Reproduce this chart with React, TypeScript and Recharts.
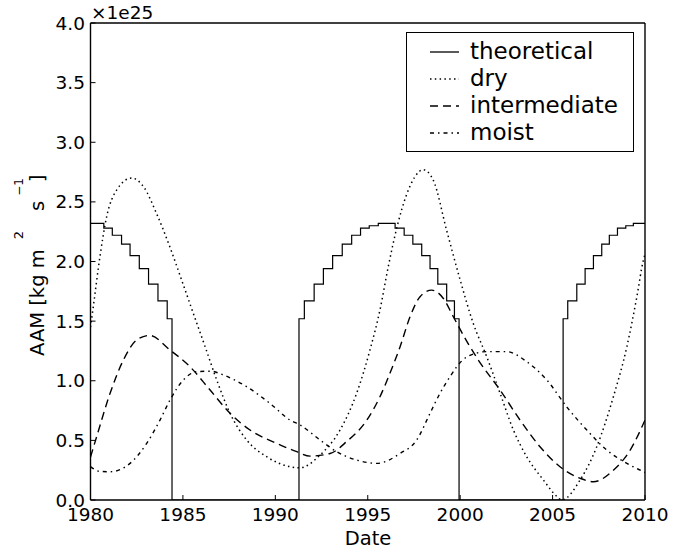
import React from "react";
import { LineChart, Line, XAxis, YAxis, Legend } from "recharts";

// [year, AAM / 1e25]
const theoretical: [number, number][] = [
  [1980, 2.32], [1980.72, 2.28], [1981.18, 2.22], [1981.68, 2.145], [1982.14, 2.05],
  [1982.64, 1.94], [1983.14, 1.81], [1983.65, 1.67], [1984.15, 1.52], [1984.41, 0],
  [1991.28, 1.52], [1991.57, 1.67], [1992.1, 1.81], [1992.6, 1.94], [1993.1, 2.05],
  [1993.62, 2.145], [1994.13, 2.22], [1994.61, 2.28], [1995.08, 2.3], [1995.57, 2.32],
  [1996.48, 2.28], [1996.97, 2.22], [1997.44, 2.145], [1997.92, 2.05], [1998.37, 1.94],
  [1998.79, 1.81], [1999.27, 1.67], [1999.69, 1.52], [1999.94, 0],
  [2005.57, 1.52], [2005.82, 1.67], [2006.31, 1.81], [2006.76, 1.94], [2007.21, 2.05],
  [2007.66, 2.145], [2008.07, 2.22], [2008.51, 2.28], [2008.96, 2.3], [2009.37, 2.32],
  [2010, 2.32],
];

const dry: [number, number][] = [
  [1980, 1.45], [1980.15, 1.62], [1980.51, 2.04], [1980.88, 2.38], [1981.42, 2.6],
  [1982.23, 2.7], [1982.9, 2.62], [1983.58, 2.4], [1984.3, 2.12], [1984.93, 1.845],
  [1985.56, 1.566], [1986.2, 1.286], [1986.83, 1.006], [1987.55, 0.727], [1988.45, 0.503],
  [1989.53, 0.363], [1990.8, 0.279], [1991.34, 0.27], [1992.42, 0.377], [1993.5, 0.587],
  [1994.4, 0.895], [1995.12, 1.258], [1995.66, 1.593], [1996.11, 1.956], [1996.6, 2.3],
  [1997.1, 2.56], [1997.55, 2.71], [1998.0, 2.77], [1998.55, 2.68], [1999.27, 2.26],
  [2000.0, 1.845], [2000.71, 1.48], [2001.44, 1.2], [2002.16, 0.895], [2002.88, 0.587],
  [2003.6, 0.363], [2004.5, 0.168], [2005.23, 0.03], [2005.5, 0.0], [2006.49, 0.168],
  [2007.39, 0.447], [2008.29, 0.866], [2009.02, 1.286], [2009.56, 1.705], [2009.91, 2.01],
  [2010, 2.06],
];

const intermediate: [number, number][] = [
  [1980, 0.36], [1980.33, 0.53], [1981.06, 0.895], [1981.78, 1.174], [1982.5, 1.342],
  [1983.2, 1.38], [1984.3, 1.258], [1985.38, 1.118], [1986.47, 0.922], [1987.55, 0.727],
  [1988.63, 0.587], [1990.07, 0.475], [1991.16, 0.405], [1991.88, 0.368], [1992.96, 0.39],
  [1993.86, 0.49], [1994.95, 0.67], [1995.66, 0.866], [1996.2, 1.062], [1996.75, 1.286],
  [1997.29, 1.537], [1997.83, 1.705], [1998.46, 1.76], [1999.09, 1.69], [1999.63, 1.537],
  [2000.36, 1.33], [2000.98, 1.174], [2002.16, 0.922], [2003.24, 0.67], [2004.32, 0.447],
  [2005.4, 0.279], [2006.49, 0.182], [2007.2, 0.153], [2008.29, 0.25], [2009.2, 0.419],
  [2010, 0.67],
];

const moist: [number, number][] = [
  [1980, 0.28], [1980.5, 0.24], [1981.06, 0.237], [1982.14, 0.307], [1983.04, 0.475],
  [1983.76, 0.67], [1984.3, 0.838], [1985.02, 1.006], [1985.75, 1.076], [1986.5, 1.08],
  [1987.19, 1.048], [1988.45, 0.95], [1989.71, 0.81], [1990.8, 0.67], [1991.34, 0.629],
  [1992.42, 0.503], [1993.32, 0.405], [1994.4, 0.335], [1995.49, 0.307], [1996.75, 0.39],
  [1997.65, 0.503], [1998.37, 0.727], [1998.91, 0.895], [1999.45, 1.034], [1999.82, 1.118],
  [2000.36, 1.2], [2001.44, 1.244], [2002.52, 1.244], [2003.6, 1.16], [2004.69, 1.006],
  [2005.77, 0.78], [2006.85, 0.587], [2007.93, 0.419], [2009.02, 0.307], [2009.91, 0.237],
  [2010, 0.23],
];

const xTicks = [1980, 1985, 1990, 1995, 2000, 2005, 2010];
const yTicks = [0, 0.5, 1, 1.5, 2, 2.5, 3, 3.5, 4];

const font = "DejaVu Sans";

const dashes = {
  theoretical: undefined,
  dry: "1.5 3.3",
  intermediate: "8 5",
  moist: "4 4 1.5 4",
};

const legendItems = [
  { name: "theoretical", dash: dashes.theoretical },
  { name: "dry", dash: dashes.dry },
  { name: "intermediate", dash: dashes.intermediate },
  { name: "moist", dash: dashes.moist },
];

const toPoints = (pts: [number, number][]) => pts.map(([year, aam]) => ({ year, aam }));

function LegendBox() {
  return (
    <div
      style={{
        boxSizing: "border-box",
        width: 228,
        border: "1.3px solid #000",
        background: "#fff",
        padding: "5px 0",
        fontFamily: font,
        fontSize: 23,
        color: "#000",
      }}
    >
      {legendItems.map((item) => (
        <div key={item.name} style={{ display: "flex", alignItems: "center", height: 27 }}>
          <svg width={29} height={8} style={{ marginLeft: 23, marginRight: 11 }}>
            <line x1={0} y1={4} x2={29} y2={4} stroke="#000" strokeWidth={1.3} strokeDasharray={item.dash} />
          </svg>
          <span style={{ lineHeight: "27px" }}>{item.name}</span>
        </div>
      ))}
    </div>
  );
}

const yLabel = () => (
  <text
    transform="translate(44, 356) rotate(-90)"
    x={0}
    y={0}
    fontFamily={font}
    fontSize={19.5}
    fill="#000"
    textAnchor="start"
  >
    AAM [kg m
    <tspan dx={10} dy={-21} fontSize={13}>2</tspan>
    <tspan dx={20} dy={21}>s</tspan>
    <tspan dx={5} dy={-21} fontSize={12}>−1</tspan>
    <tspan dx={-4} dy={21}>]</tspan>
  </text>
);

const xLabel = () => (
  <text x={368} y={545} fontFamily={font} fontSize={19.5} fill="#000" textAnchor="middle">
    Date
  </text>
);

const scaleLabel = () => (
  <text x={91} y={19} fontFamily={font} fontSize={18.5} fill="#000">
    ×1e25
  </text>
);

export default function App() {
  const tickStyle = { fill: "#000", fontSize: 18.5, fontFamily: font };
  const axisStyle = { stroke: "#000", strokeWidth: 1.4 };
  const tickLine = { stroke: "#000", strokeWidth: 1 };
  const lineProps = {
    xAxisId: "bottom",
    yAxisId: "left",
    dataKey: "aam",
    stroke: "#000",
    dot: false,
    activeDot: false,
    isAnimationActive: false,
  };

  return (
    <div style={{ position: "absolute", left: 0, top: 0, width: 692, height: 552, background: "#fff" }}>
      <LineChart width={692} height={552} margin={{ top: 22, right: 46, bottom: 0, left: 0 }}>
        <XAxis
          xAxisId="bottom"
          dataKey="year"
          type="number"
          domain={[1980, 2010]}
          allowDataOverflow
          ticks={xTicks}
          height={52}
          tickSize={-5}
          tickMargin={13}
          tick={tickStyle}
          axisLine={axisStyle}
          tickLine={tickLine}
          label={xLabel}
        />
        <XAxis
          xAxisId="top"
          orientation="top"
          dataKey="year"
          type="number"
          domain={[1980, 2010]}
          allowDataOverflow
          ticks={xTicks}
          height={1}
          tickSize={-5}
          tick={false}
          axisLine={axisStyle}
          tickLine={tickLine}
          label={scaleLabel}
        />
        <YAxis
          yAxisId="left"
          type="number"
          domain={[0, 4]}
          allowDataOverflow
          ticks={yTicks}
          width={90.5}
          tickSize={-5}
          tickMargin={10.5}
          tick={tickStyle}
          tickFormatter={(v: number) => v.toFixed(1)}
          axisLine={axisStyle}
          tickLine={tickLine}
          label={yLabel}
        />
        <YAxis
          yAxisId="right"
          orientation="right"
          type="number"
          domain={[0, 4]}
          allowDataOverflow
          ticks={yTicks}
          width={1}
          tickSize={-5}
          tick={false}
          axisLine={axisStyle}
          tickLine={tickLine}
        />
        <Line {...lineProps} data={toPoints(theoretical)} name="theoretical" type="stepAfter" strokeWidth={1.2} />
        <Line
          {...lineProps}
          data={toPoints(dry)}
          name="dry"
          type="monotone"
          strokeWidth={1.5}
          strokeDasharray={dashes.dry}
        />
        <Line
          {...lineProps}
          data={toPoints(intermediate)}
          name="intermediate"
          type="monotone"
          strokeWidth={1.4}
          strokeDasharray={dashes.intermediate}
        />
        <Line
          {...lineProps}
          data={toPoints(moist)}
          name="moist"
          type="monotone"
          strokeWidth={1.4}
          strokeDasharray={dashes.moist}
        />
        <Legend
          layout="vertical"
          align="center"
          verticalAlign="middle"
          content={() => <LegendBox />}
          wrapperStyle={{ left: 406, top: 32, width: 228 }}
        />
      </LineChart>
    </div>
  );
}
